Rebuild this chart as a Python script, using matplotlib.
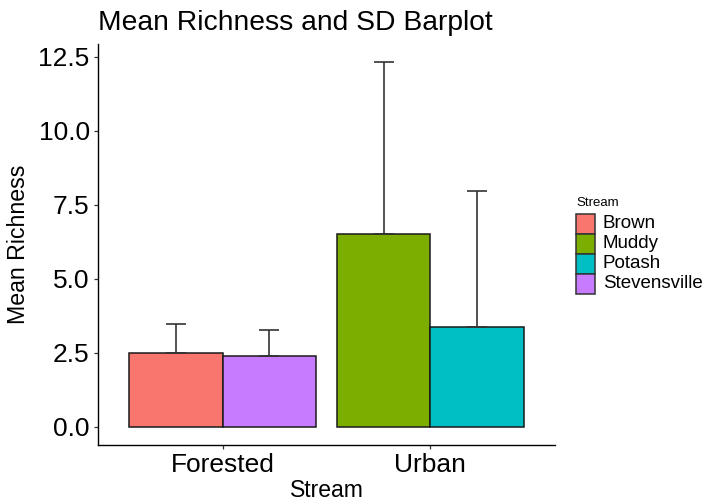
import matplotlib
matplotlib.use("Agg")
import matplotlib.pyplot as plt
from matplotlib.patches import Rectangle

plt.rcParams['font.family'] = ['Liberation Sans', 'DejaVu Sans']

categories = ["Forested", "Urban"]
streams = ["Brown", "Muddy", "Potash", "Stevensville"]
stream_group = ["Forested", "Urban", "Urban", "Forested"]
means = [2.48, 6.52, 3.38, 2.40]
sds = [1.00, 5.79, 4.59, 0.86]
colors = ["#F8766D", "#7CAE00", "#00BFC4", "#C77CFF"]
yticks = [0.0, 2.5, 5.0, 7.5, 10.0, 12.5]

W, H = 704, 501
fig = plt.figure(figsize=(W / 100, H / 100), dpi=100)

ymax = max(m + s for m, s in zip(means, sds))
ylo, yhi = -0.05 * ymax, ymax * 1.05

# axes placement in pixels
left_px, right_px, bottom_px = 98, 555, 445
ppu = 29.6
top_px = bottom_px - (yhi - ylo) * ppu
ax = fig.add_axes([left_px / W, 1 - bottom_px / H, (right_px - left_px) / W,
                   (bottom_px - top_px) / H])

width = 0.45
for gi, g in enumerate(categories):
    members = [i for i, sg in enumerate(stream_group) if sg == g]
    n = len(members)
    for k, i in enumerate(members):
        x = gi + 1 + (k - (n - 1) / 2) * width
        ax.bar(x, means[i], width=width, color=colors[i], edgecolor="#1a1a1a",
               linewidth=1.1, zorder=2)
        ax.errorbar(x, means[i], yerr=[[0], [sds[i]]], fmt="none",
                    ecolor="#333333", elinewidth=1.2, capsize=7.2,
                    capthick=1.2, zorder=3)

ax.set_xlim(0.4, 2.6)
ax.set_ylim(ylo, yhi)
ax.set_xticks([1, 2])
ax.set_xticklabels(categories, fontsize=19)
ax.set_yticks(yticks)
ax.set_yticklabels([f"{v:.1f}" for v in yticks], fontsize=19)
ax.tick_params(axis="both", length=3, width=0.9, color="#333333", pad=3,
               labelcolor="black")
for s in ["top", "right"]:
    ax.spines[s].set_visible(False)
for s in ["left", "bottom"]:
    ax.spines[s].set_linewidth(1.0)
    ax.spines[s].set_color("black")

ax.set_xlabel("Stream", fontsize=16.5, labelpad=1)
ax.set_ylabel("Mean Richness", fontsize=16.7, labelpad=6)
ax.set_title("Mean Richness and SD Barplot", fontsize=20.3, loc="left", pad=10)

# legend drawn in figure pixel coordinates
def fx(px):
    return px / W

def fy(py):
    return 1 - py / H

lx, ly0, kw, kh, pitch = 576, 214, 19, 19.5, 20
fig.text(fx(lx), fy(203), "Stream", fontsize=9.5, ha="left", va="center")
for i, (name, c) in enumerate(zip(streams, colors)):
    top = ly0 + pitch * i
    fig.patches.append(Rectangle((fx(lx), fy(top + kh)), kw / W, kh / H,
                                 transform=fig.transFigure, facecolor=c,
                                 edgecolor="#333333", linewidth=1.1))
    fig.text(fx(603), fy(top + kh / 2), name, fontsize=13.5, ha="left",
             va="center")

fig.savefig("out.png", dpi=100)
